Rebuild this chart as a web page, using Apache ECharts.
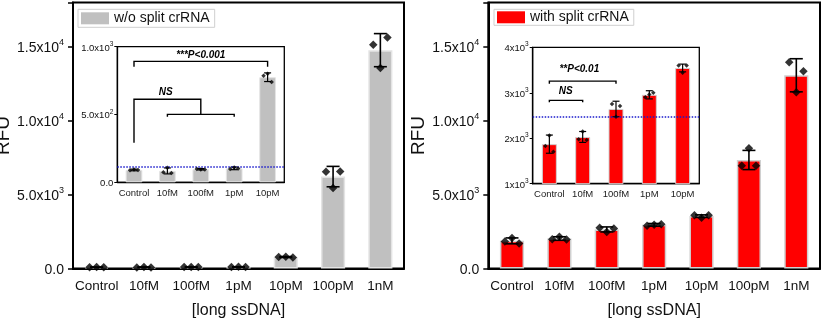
<!DOCTYPE html>
<html>
<head>
<meta charset="utf-8">
<script src="https://cdn.jsdelivr.net/npm/echarts@6/dist/echarts.min.js"></script>
<style>
html,body{margin:0;padding:0;background:#fff;}
#c{width:834px;height:328px;}
</style>
</head>
<body>
<div id="c"></div>
<script>
// ---------- data ----------
const categories = ['Control', '10fM', '100fM', '1pM', '10pM', '100pM', '1nM'];
const insetCategories = ['Control', '10fM', '100fM', '1pM', '10pM'];

const leftName = 'w/o split crRNA';
const leftMeans = [91, 84, 96, 103, 775, 6220, 14775];
const leftErr = [6, 22, 5, 10, 32, 690, 1120];
const leftReps = [[88, 95, 90], [75, 108, 68], [98, 95, 94], [98, 110, 102], [785, 800, 740], [6550, 5450, 6560], [15135, 13560, 15630]];

const rightName = 'with split crRNA';
const rightMeans = [1870, 2028, 2644, 2955, 3545, 7343, 13075];
const rightErr = [200, 120, 170, 90, 85, 650, 1120];
const rightReps = [[1830, 2060, 1700], [1975, 2150, 1960], [2752, 2473, 2707], [2900, 2960, 3000], [3600, 3440, 3600], [6950, 8130, 6950], [13955, 11926, 13345]];

const leftThreshold = 115;
const rightThreshold = 2472;

// y tick labels: [mantissa, exponent]
const mainTicks = [0, 5000, 10000, 15000];
const mainTickText = [['0.0', ''], ['5.0x10', '3'], ['1.0x10', '4'], ['1.5x10', '4']];
const leftInsetTicks = [0, 500, 1000];
const leftInsetTickText = [['0.0', ''], ['5.0x10', '2'], ['1.0x10', '3']];
const rightInsetTicks = [1000, 2000, 3000, 4000];
const rightInsetTickText = [['1x10', '3'], ['2x10', '3'], ['3x10', '3'], ['4x10', '3']];

// significance brackets (category index, value)
const leftBrackets = [
  [[0, 853], [0, 892], [4, 892], [4, 853]],
  [[0, 292], [0, 612], [2, 612], [2, 501]],
  [[1, 484], [1, 501], [3, 501], [3, 484]]
];
const leftBracketLabels = [[2, 939, '***P<0.001'], [0.95, 665, 'NS']];
const rightBrackets = [
  [[0, 2789], [0, 2833], [1, 2833], [1, 2789]],
  [[0, 3198], [0, 3257], [2, 3257], [2, 3198]]
];
const rightBracketLabels = [[0.49, 3030, 'NS'], [0.9, 3521, '**P<0.01']];

const mainJitter = [-0.15, 0, 0.15];
const insetJitter = [-0.12, 0, 0.12];

// ---------- helpers ----------
const FONT = '"Liberation Sans", Arial, sans-serif';
function tickFormatter(ticks, texts) {
  return function (v) {
    const i = ticks.indexOf(v);
    if (i < 0) return '';
    const t = texts[i];
    return t[1] ? '{b|' + t[0] + '}{s|' + t[1] + '}' : '{b|' + t[0] + '}';
  };
}
function richFor(size, supSize) {
  return {
    b: { fontSize: size, fontFamily: FONT, color: '#111', lineHeight: size + 3, verticalAlign: 'bottom' },
    s: { fontSize: supSize, fontFamily: FONT, color: '#111', lineHeight: size + 3, verticalAlign: 'top' }
  };
}
function repPoints(reps, n, jitter) {
  const out = [];
  for (let i = 0; i < n; i++) reps[i].forEach((v, k) => out.push([i + jitter[k], v]));
  return out;
}
function errData(means, err, n) {
  const out = [];
  for (let i = 0; i < n; i++) out.push([i, means[i], err[i]]);
  return out;
}
function errRender(capHalf, lw) {
  return function (params, api) {
    const x = api.value(0), m = api.value(1), e = api.value(2);
    const t = api.coord([x, m + e]), b = api.coord([x, m - e]);
    const st = { stroke: '#000', lineWidth: lw };
    return {
      type: 'group', children: [
        { type: 'line', shape: { x1: t[0], y1: t[1], x2: b[0], y2: b[1] }, style: st },
        { type: 'line', shape: { x1: t[0] - capHalf, y1: t[1], x2: t[0] + capHalf, y2: t[1] }, style: st },
        { type: 'line', shape: { x1: b[0] - capHalf, y1: b[1], x2: b[0] + capHalf, y2: b[1] }, style: st }
      ]
    };
  };
}
function bracketSeries(brackets, xi, yi) {
  return {
    type: 'custom', xAxisIndex: xi, yAxisIndex: yi, z: 6, silent: true,
    data: brackets.map((b, i) => [i]),
    renderItem: function (params, api) {
      const pts = brackets[params.dataIndex].map(p => api.coord(p));
      return { type: 'polyline', shape: { points: pts }, style: { stroke: '#000', lineWidth: 1.4, fill: null } };
    }
  };
}
function labelSeries(labels, xi, yi) {
  return {
    type: 'custom', xAxisIndex: xi, yAxisIndex: yi, z: 6, silent: true,
    data: labels.map(l => [l[0], l[1]]),
    renderItem: function (params, api) {
      const l = labels[params.dataIndex];
      const p = api.coord([l[0], l[1]]);
      return {
        type: 'text', x: p[0], y: p[1],
        style: { text: l[2], fill: '#000', fontSize: 10, fontWeight: 'bold', fontStyle: 'italic', fontFamily: FONT, align: 'center', verticalAlign: 'middle' }
      };
    }
  };
}

// ---------- axes ----------
function catAxis(grid, data, main) {
  return {
    type: 'category', gridIndex: grid, data: data,
    boundaryGap: true,
    axisLine: { onZero: false, lineStyle: { color: '#000', width: main ? 2 : 1.3 } },
    axisTick: { alignWithLabel: true, inside: false, length: main ? 5 : 3, lineStyle: { color: '#000', width: main ? 1.5 : 1 } },
    axisLabel: { fontSize: main ? 13.5 : 9.5, fontFamily: FONT, color: main ? '#111' : '#222', margin: main ? 11 : 6, interval: 0 },
    name: main ? '[long ssDNA]' : '', nameLocation: 'middle', nameGap: 34,
    nameTextStyle: { fontSize: 16, fontFamily: FONT, color: '#111' },
    splitLine: { show: false }
  };
}
function valXAxis(grid, n) {
  return { type: 'value', gridIndex: grid, min: -0.5, max: n - 0.5, show: false, splitLine: { show: false } };
}
function yAxisDef(grid, min, max, interval, ticks, texts, main) {
  return {
    type: 'value', gridIndex: grid, min: min, max: max, interval: interval,
    axisLine: { show: true, onZero: false, lineStyle: { color: '#000', width: main ? 2 : 1.3 } },
    axisTick: { show: true, inside: false, length: main ? 5 : 3, lineStyle: { color: '#000', width: main ? 1.5 : 1 } },
    axisLabel: {
      formatter: tickFormatter(ticks, texts), margin: main ? 9 : 4,
      rich: main ? richFor(14, 9) : richFor(9.5, 6.5)
    },
    splitLine: { show: false },
    name: main ? 'RFU' : '', nameLocation: 'middle', nameGap: 60, nameRotate: 90,
    nameMoveOverlap: false,
    nameTextStyle: { fontSize: 19, fontFamily: FONT, color: '#111' }
  };
}

const GRAY = '#c0c0c0', GRAYB = '#e4e4e4', RED = '#ff0000', REDB = '#d0d0d0';

const option = {
  animation: false,
  backgroundColor: '#fff',
  grid: [
    { left: 73, top: 2.5, width: 331, height: 266, show: true, borderColor: '#000', borderWidth: 2, backgroundColor: 'transparent', outerBoundsMode: 'none', containLabel: false },
    { left: 488.3, top: 2.5, width: 331.7, height: 266, show: true, borderColor: '#000', borderWidth: 2, backgroundColor: 'transparent', outerBoundsMode: 'none', containLabel: false },
    { left: 117.3, top: 46.7, width: 167, height: 135.6, show: true, borderColor: '#000', borderWidth: 1.3, backgroundColor: '#fff', outerBoundsMode: 'none', containLabel: false },
    { left: 532.7, top: 47.3, width: 166.6, height: 136.4, show: true, borderColor: '#000', borderWidth: 1.3, backgroundColor: '#fff', outerBoundsMode: 'none', containLabel: false }
  ],
  xAxis: [
    catAxis(0, categories, true), catAxis(1, categories, true),
    catAxis(2, insetCategories, false), catAxis(3, insetCategories, false),
    valXAxis(0, 7), valXAxis(1, 7), valXAxis(2, 5), valXAxis(3, 5)
  ],
  yAxis: [
    yAxisDef(0, 0, 18000, 5000, mainTicks, mainTickText, true),
    yAxisDef(1, 0, 18000, 5000, mainTicks, mainTickText, true),
    yAxisDef(2, 0, 1000, 500, leftInsetTicks, leftInsetTickText, false),
    yAxisDef(3, 1000, 4000, 1000, rightInsetTicks, rightInsetTickText, false)
  ],
  legend: [
    {
      data: [leftName], left: 78, top: 9.3, selectedMode: false, icon: 'rect',
      itemWidth: 28, itemHeight: 12, padding: [2, 5, 2, 3],
      borderColor: '#cfcfcf', borderWidth: 1, backgroundColor: '#fff',
      itemStyle: { borderWidth: 0 },
      textStyle: { fontSize: 14, fontFamily: FONT, color: '#111', lineHeight: 14 }
    },
    {
      data: [rightName], left: 494, top: 9.3, selectedMode: false, icon: 'rect',
      itemWidth: 28, itemHeight: 12, padding: [1, 5, 1, 3],
      borderColor: '#cfcfcf', borderWidth: 1, backgroundColor: '#fff',
      itemStyle: { borderWidth: 0 },
      textStyle: { fontSize: 14, fontFamily: FONT, color: '#111', lineHeight: 14 }
    }
  ],
  series: [
    // main left
    { name: leftName, type: 'bar', xAxisIndex: 0, yAxisIndex: 0, data: leftMeans, barWidth: '51%',
      itemStyle: { color: GRAY, borderColor: GRAYB, borderWidth: 1.5 }, z: 2 },
    { type: 'custom', xAxisIndex: 4, yAxisIndex: 0, data: errData(leftMeans, leftErr, 7), renderItem: errRender(6.5, 1.6), z: 4 },
    { type: 'scatter', xAxisIndex: 4, yAxisIndex: 0, data: repPoints(leftReps, 7, mainJitter), symbol: 'diamond', symbolSize: 8.5,
      itemStyle: { color: '#000' }, z: 5 },
    // main right
    { name: rightName, type: 'bar', xAxisIndex: 1, yAxisIndex: 1, data: rightMeans, barWidth: '51%',
      itemStyle: { color: RED, borderColor: REDB, borderWidth: 1.5 }, z: 2 },
    { type: 'custom', xAxisIndex: 5, yAxisIndex: 1, data: errData(rightMeans, rightErr, 7), renderItem: errRender(6.5, 1.6), z: 4 },
    { type: 'scatter', xAxisIndex: 5, yAxisIndex: 1, data: repPoints(rightReps, 7, mainJitter), symbol: 'diamond', symbolSize: 8.5,
      itemStyle: { color: '#000' }, z: 5 },
    // inset left
    { name: leftName, type: 'bar', xAxisIndex: 2, yAxisIndex: 2, data: leftMeans.slice(0, 5), barWidth: '50%',
      itemStyle: { color: GRAY, borderColor: GRAYB, borderWidth: 1 }, z: 2,
      markLine: { silent: true, symbol: 'none', label: { show: false },
        lineStyle: { color: '#1a1acc', type: 'dotted', width: 1.5 }, data: [{ yAxis: leftThreshold }] } },
    { type: 'custom', xAxisIndex: 6, yAxisIndex: 2, data: errData(leftMeans, leftErr, 5), renderItem: errRender(3.5, 1.2), z: 4 },
    { type: 'scatter', xAxisIndex: 6, yAxisIndex: 2, data: repPoints(leftReps, 5, insetJitter), symbol: 'diamond', symbolSize: 4.5,
      itemStyle: { color: '#000' }, z: 5 },
    bracketSeries(leftBrackets, 6, 2),
    labelSeries(leftBracketLabels, 6, 2),
    // inset right
    { name: rightName, type: 'bar', xAxisIndex: 3, yAxisIndex: 3, data: rightMeans.slice(0, 5), barWidth: '45%',
      itemStyle: { color: RED, borderColor: REDB, borderWidth: 1 }, z: 2,
      markLine: { silent: true, symbol: 'none', label: { show: false },
        lineStyle: { color: '#1a1acc', type: 'dotted', width: 1.5 }, data: [{ yAxis: rightThreshold }] } },
    { type: 'custom', xAxisIndex: 7, yAxisIndex: 3, data: errData(rightMeans, rightErr, 5), renderItem: errRender(3.5, 1.2), z: 4 },
    { type: 'scatter', xAxisIndex: 7, yAxisIndex: 3, data: repPoints(rightReps, 5, insetJitter), symbol: 'diamond', symbolSize: 4.5,
      itemStyle: { color: '#000' }, z: 5 },
    bracketSeries(rightBrackets, 7, 3),
    labelSeries(rightBracketLabels, 7, 3)
  ]
};

const chart = echarts.init(document.getElementById('c'), null, { renderer: 'canvas' });
chart.setOption(option);
</script>
</body>
</html>
